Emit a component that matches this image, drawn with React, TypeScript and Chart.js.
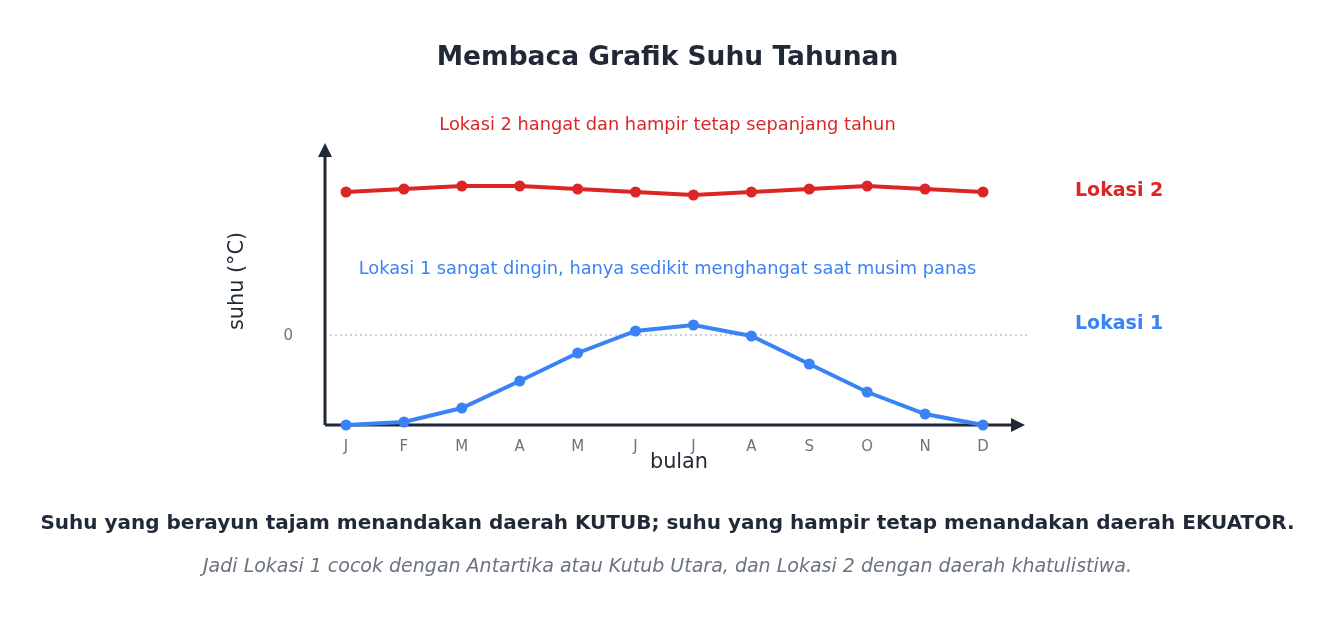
import React, { useEffect, useRef } from "react";
import { Chart, registerables } from "chart.js";

Chart.register(...registerables);

const months = ["J", "F", "M", "A", "M", "J", "J", "A", "S", "O", "N", "D"];
const lokasi1 = [-18, -17.4, -14.6, -9.2, -3.6, 0.8, 2, -0.2, -5.8, -11.4, -15.8, -18];
const lokasi2 = [28.6, 29.2, 29.8, 29.8, 29.2, 28.6, 28, 28.6, 29.2, 29.8, 29.2, 28.6];
const yTicks = [0];

const titleText = "Membaca Grafik Suhu Tahunan";
const note2 = "Lokasi 2 hangat dan hampir tetap sepanjang tahun";
const note1 = "Lokasi 1 sangat dingin, hanya sedikit menghangat saat musim panas";
const footerBold = "Suhu yang berayun tajam menandakan daerah KUTUB; suhu yang hampir tetap menandakan daerah EKUATOR.";
const footerItalic = "Jadi Lokasi 1 cocok dengan Antartika atau Kutub Utara, dan Lokasi 2 dengan daerah khatulistiwa.";

const RED = "#dc2626";
const BLUE = "#3b82f6";
const DARK = "#1f2937";
const GRAY = "#6b7280";
const FONT = "'DejaVu Sans', sans-serif";

const axesPlugin = {
  id: "axesPlugin",
  beforeDatasetsDraw(chart: any) {
    const { ctx, chartArea, scales } = chart;
    const y0 = scales.y.getPixelForValue(0);
    const axisX = chartArea.left - 21;
    const axisY = chartArea.bottom;
    const xEnd = chartArea.right + 42;
    const yTop = chartArea.top - 2;
    ctx.save();
    ctx.strokeStyle = "#9ca3af";
    ctx.lineWidth = 1;
    ctx.setLineDash([2, 3]);
    ctx.beginPath();
    ctx.moveTo(axisX + 5, y0);
    ctx.lineTo(xEnd + 5, y0);
    ctx.stroke();
    ctx.setLineDash([]);
    ctx.strokeStyle = DARK;
    ctx.fillStyle = DARK;
    ctx.lineWidth = 3;
    ctx.beginPath();
    ctx.moveTo(axisX, axisY);
    ctx.lineTo(axisX, yTop + 10);
    ctx.moveTo(axisX, axisY);
    ctx.lineTo(xEnd - 10, axisY);
    ctx.stroke();
    ctx.beginPath();
    ctx.moveTo(axisX, yTop);
    ctx.lineTo(axisX - 7, yTop + 14);
    ctx.lineTo(axisX + 7, yTop + 14);
    ctx.closePath();
    ctx.fill();
    ctx.beginPath();
    ctx.moveTo(xEnd, axisY);
    ctx.lineTo(xEnd - 14, axisY - 7);
    ctx.lineTo(xEnd - 14, axisY + 7);
    ctx.closePath();
    ctx.fill();
    ctx.restore();
  },
  afterDraw(chart: any) {
    const { ctx, chartArea, scales, width } = chart;
    const cx = width / 2;
    ctx.save();
    ctx.textAlign = "center";
    ctx.textBaseline = "middle";
    ctx.fillStyle = DARK;
    ctx.font = `bold 26.5px ${FONT}`;
    ctx.fillText(titleText, cx, 58);
    ctx.font = `17.8px ${FONT}`;
    ctx.fillStyle = RED;
    ctx.fillText(note2, cx, 125);
    ctx.fillStyle = BLUE;
    ctx.fillText(note1, cx, 269);
    ctx.textAlign = "left";
    ctx.font = `bold 19px ${FONT}`;
    ctx.fillStyle = RED;
    ctx.fillText("Lokasi 2", 1075, 191);
    ctx.fillStyle = BLUE;
    ctx.fillText("Lokasi 1", 1075, 324);
    ctx.textAlign = "right";
    ctx.font = `15px ${FONT}`;
    ctx.fillStyle = GRAY;
    yTicks.forEach((t) => {
      ctx.fillText(String(t), chartArea.left - 53, scales.y.getPixelForValue(t) + 1);
    });
    ctx.textAlign = "center";
    months.forEach((m, i) => {
      ctx.fillText(m, scales.x.getPixelForValue(i), chartArea.bottom + 22);
    });
    ctx.fillStyle = DARK;
    ctx.font = `20.8px ${FONT}`;
    ctx.fillText("bulan", 679, chartArea.bottom + 38);
    ctx.save();
    ctx.translate(238, 281);
    ctx.rotate(-Math.PI / 2);
    ctx.fillText("suhu (°C)", 0, 0);
    ctx.restore();
    ctx.fillStyle = DARK;
    ctx.font = `bold 20px ${FONT}`;
    ctx.fillText(footerBold, cx, 524);
    ctx.fillStyle = GRAY;
    ctx.font = `italic 19px ${FONT}`;
    ctx.fillText(footerItalic, cx, 567);
    ctx.restore();
  },
};

export default function App() {
  const ref = useRef<HTMLCanvasElement>(null);
  useEffect(() => {
    if (!ref.current) return;
    const chart = new Chart(ref.current, {
      type: "line",
      data: {
        labels: months,
        datasets: [
          {
            label: "Lokasi 2",
            data: lokasi2,
            borderColor: RED,
            backgroundColor: RED,
            borderWidth: 4,
            pointRadius: 3.5,
            pointHoverRadius: 3.5,
            tension: 0,
            clip: false as any,
          },
          {
            label: "Lokasi 1",
            data: lokasi1,
            borderColor: BLUE,
            backgroundColor: BLUE,
            borderWidth: 4,
            pointRadius: 3.5,
            pointHoverRadius: 3.5,
            tension: 0,
            clip: false as any,
          },
        ],
      },
      options: {
        animation: false,
        responsive: true,
        maintainAspectRatio: false,
        layout: { padding: { left: 346, right: 352, top: 145, bottom: 204 } },
        plugins: { legend: { display: false }, title: { display: false }, tooltip: { enabled: false } },
        scales: {
          x: { display: false, offset: false },
          y: { display: false, min: -18, max: 38 },
        },
      },
      plugins: [axesPlugin],
    });
    return () => chart.destroy();
  }, []);
  return (
    <div style={{ position: "fixed", left: 0, top: 0, width: 1335, height: 629, background: "#fff" }}>
      <canvas ref={ref} />
    </div>
  );
}
